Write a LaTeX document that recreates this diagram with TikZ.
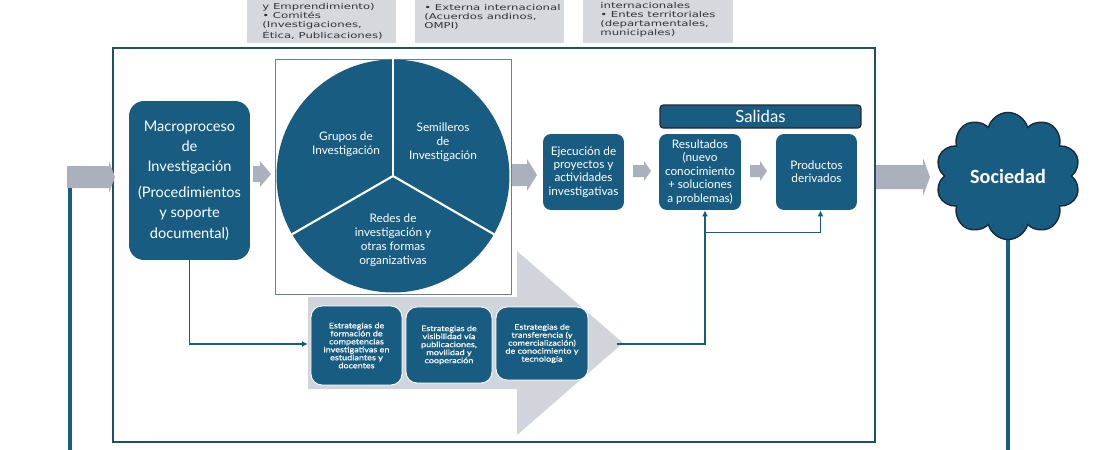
\documentclass[tikz,border=0pt]{standalone}
\usepackage{fontspec}
\setmainfont{Lato}
\newfontfamily\cajafont[FakeStretch=1.45]{DejaVu Sans}
\newfontfamily\anchafont[FakeStretch=1.2,FakeBold=0.6]{Lato}
\newfontfamily\nubefont{Carlito}
\usetikzlibrary{shapes.symbols,arrows.meta,calc}
\definecolor{azul}{RGB}{24,93,129}
\definecolor{gris}{RGB}{170,177,188}
\definecolor{grisclaro}{RGB}{209,213,219}
\definecolor{grisbox}{RGB}{213,216,221}
\definecolor{marcoazul}{RGB}{32,78,98}
\definecolor{nubeborde}{RGB}{22,42,58}
\tikzstyle{caja} = [rounded corners=0.16cm, fill=azul, text=white, align=center, inner sep=0pt, font=\fontsize{6.7}{7.6}\selectfont]
\tikzstyle{estrategia} = [caja, rounded corners=0.22cm, draw=white, line width=0.5pt, font=\anchafont\fontsize{4.3}{4.55}\selectfont]
\tikzstyle{pietexto} = [text=white, align=center, inner sep=0pt, font=\fontsize{6.7}{8}\selectfont]
\tikzstyle{textogris} = [align=left, inner sep=0pt, text=black!80, font=\cajafont\fontsize{4.6}{5.1}\selectfont]
\tikzstyle{conector} = [draw=azul, line width=0.9pt, -{Latex[length=3.5pt,width=3.5pt]}]
\tikzstyle{retro} = [draw=azul, line width=2.8pt]
\newcommand{\bloque}[7][gris]{\fill[#1] (#2,{#4-#5}) -- ({#3-#7},{#4-#5}) -- ({#3-#7},{#4-#6}) -- (#3,#4) -- ({#3-#7},{#4+#6}) -- ({#3-#7},{#4+#5}) -- (#2,{#4+#5}) -- cycle;}

\begin{document}
\begin{tikzpicture}[x=0.02cm, y=-0.02cm]
	\useasboundingbox (0,0) rectangle (1100,450);
	\clip (0,0) rectangle (1100,450);

	\node[fill=grisbox, minimum width=2.98cm, minimum height=1.5cm, anchor=south west, inner sep=0] (cajaa) at (247,43) {};
	\node[fill=grisbox, minimum width=2.98cm, minimum height=1.5cm, anchor=south west, inner sep=0] (cajab) at (415,43) {};
	\node[fill=grisbox, minimum width=3cm, minimum height=1.5cm, anchor=south west, inner sep=0] (cajac) at (583,43) {};
	\node[textogris, anchor=north west] (comites) at (262,3.5) {y Emprendimiento)\\• Comités\\(Investigaciones,\\Ética, Publicaciones)};
	\node[textogris, anchor=north west] (externa) at (424,4) {• Externa internacional\\(Acuerdos andinos,\\OMPI)};
	\node[textogris, anchor=north west] (entes) at (600,2.5) {internacionales\\• Entes territoriales\\(departamentales,\\municipales)};

	\draw[marcoazul, line width=0.9pt] (113,48) rectangle (875,442);

	\bloque{67}{115}{177}{11}{16}{6}
	\bloque{253}{271}{174}{8}{13}{11}
	\bloque{512}{537}{175}{11}{16}{10}
	\bloque{633}{651}{171}{6}{10}{7}
	\bloque{750}{767}{171}{6}{10}{7}
	\bloque{876}{930}{177}{12}{19}{7}
	\bloque[grisclaro]{308}{623}{343}{46}{92}{106}

	\node[caja, rounded corners=0.3cm, minimum width=2.42cm, minimum height=3.18cm, font=\fontsize{8.3}{11.6}\selectfont] (macro) at (189.5,180.5) {Macroproceso\\de\\Investigación\\[3pt](Procedimientos\\y soporte\\documental)};

	\node[draw=marcoazul!70, fill=white, line width=0.5pt, minimum width=4.72cm, minimum height=4.7cm, inner sep=0] (piemarco) at (393,176.5) {};
	\node[circle, fill=azul, minimum size=4.66cm, inner sep=0] (pie) at (393,176) {};
	\foreach \a in {90,210,330}
		\draw[white, line width=1.2pt] (pie.center) -- (pie.\a);
	\node[pietexto] (grupos) at (346,144) {Grupos de\\Investigación};
	\node[pietexto] (semilleros) at (443,142) {Semilleros\\de\\Investigación};
	\node[pietexto] (redes) at (393,240) {Redes de\\investigación y\\otras formas\\organizativas};

	\node[caja, minimum width=1.62cm, minimum height=1.52cm] (ejec) at (583.5,172) {Ejecución de\\proyectos y\\actividades\\investigativas};
	\node[caja, rounded corners=0.06cm, draw=black!85, line width=0.6pt, minimum width=4.02cm, minimum height=0.46cm, font=\fontsize{9.5}{10}\selectfont] (salidas) at (760.5,116.5) {Salidas};
	\node[caja, minimum width=1.64cm, minimum height=1.52cm] (res) at (700,172) {Resultados\\(nuevo\\conocimiento\\+ soluciones\\a problemas)};
	\node[caja, minimum width=1.62cm, minimum height=1.52cm] (prod) at (816.5,172) {Productos\\derivados};

	\node[estrategia, minimum width=1.82cm, minimum height=1.58cm] (formacion) at (356.5,345.5) {Estrategias de\\formación de\\competencias\\investigativas en\\estudiantes y\\docentes};
	\node[estrategia, minimum width=1.72cm, minimum height=1.52cm] (visibilidad) at (449,345) {Estrategias de\\visibilidad vía\\publicaciones,\\movilidad y\\cooperación};
	\node[estrategia, minimum width=1.84cm, minimum height=1.46cm] (transferencia) at (542,343.5) {Estrategias de\\transferencia (y\\comercialización)\\de conocimiento y\\tecnología};

	\node[cloud, cloud puffs=10, fill=azul, draw=nubeborde, line width=0.8pt, minimum width=2.9cm, minimum height=1.72cm, inner sep=0, text=white, font=\nubefont\bfseries\fontsize{11.5}{12}\selectfont] (nube) at (1008,176) {Sociedad};

	\coordinate (flin) at (308,344);
	\coordinate (flout) at (617,344);
	\draw[conector] (macro.south) |- (flin);
	\draw[conector] (flout) -| ([xshift=0.1cm]res.south);
	\coordinate (rama) at ($([xshift=0.1cm]res.south)+(0,-0.44cm)$);
	\draw[conector] (rama) -| ([xshift=0.08cm]prod.south);

	\coordinate (entrada) at (70,188);
	\draw[retro] (entrada) -- (70,470);
	\draw[retro] (nube.south) -- ++(0,300);
\end{tikzpicture}
\end{document}
